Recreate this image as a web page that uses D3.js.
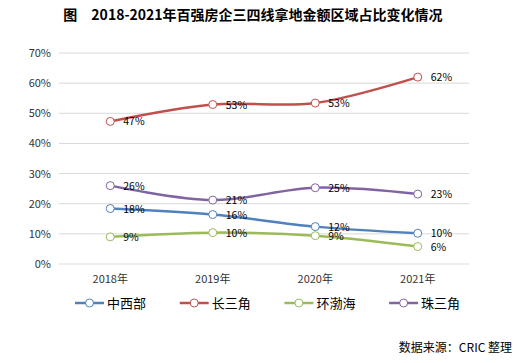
<!DOCTYPE html>
<html>
<head>
<meta charset="utf-8">
<script src="https://cdn.jsdelivr.net/npm/d3@7"></script>
<style>
  body { margin: 0; background: #fff; }
  text { font-family: "Noto Sans CJK SC", "DejaVu Sans", sans-serif; }
</style>
</head>
<body>
<svg id="chart" width="520" height="363"></svg>
<script>
// data
const years = ['2018年', '2019年', '2020年', '2021年'];
const regions = ['中西部', '长三角', '环渤海', '珠三角'];
const colors = ['#4F81BD', '#C0504D', '#9BBB59', '#8064A2'];
const zhongxibu = [18.4, 16.4, 12.4, 10.2];
const changsanjiao = [47.3, 52.9, 53.4, 62.0];
const huanbohai = [9.0, 10.4, 9.4, 5.8];
const zhusanjiao = [26.0, 21.2, 25.3, 23.2];
const yTicks = [0, 10, 20, 30, 40, 50, 60, 70];

const series = [zhongxibu, changsanjiao, huanbohai, zhusanjiao];

const svg = d3.select('#chart');

svg.append('text')
    .attr('x', 253)
    .attr('y', 20)
    .attr('text-anchor', 'middle')
    .attr('font-size', 14)
    .attr('font-weight', 'bold')
    .text('图　2018-2021年百强房企三四线拿地金额区域占比变化情况');

const x = d3.scaleBand()
    .domain(years)
    .range([59, 469]);

const y = d3.scaleLinear()
    .domain([0, 70])
    .range([264, 53]);

// gridlines
svg.append('g')
    .selectAll('line')
    .data(yTicks)
    .join('line')
    .attr('x1', 59)
    .attr('x2', 469)
    .attr('y1', d => y(d))
    .attr('y2', d => y(d))
    .attr('stroke', '#D9D9D9')
    .attr('stroke-width', 1);

// y axis labels
svg.append('g')
    .selectAll('text')
    .data(yTicks)
    .join('text')
    .attr('x', 51)
    .attr('y', d => y(d) + 4)
    .attr('text-anchor', 'end')
    .attr('font-size', 11)
    .attr('fill', '#333')
    .text(d => d + '%');

// x axis labels
svg.append('g')
    .selectAll('text')
    .data(years)
    .join('text')
    .attr('x', d => x(d) + x.bandwidth() / 2)
    .attr('y', 283)
    .attr('text-anchor', 'middle')
    .attr('font-size', 11)
    .attr('fill', '#333')
    .text(d => d);

const line = d3.line()
    .x((d, i) => x(years[i]) + x.bandwidth() / 2)
    .y(d => y(d))
    .curve(d3.curveCatmullRom.alpha(0.5));

series.forEach((vals, s) => {
    const g = svg.append('g');
    g.append('path')
        .attr('d', line(vals))
        .attr('fill', 'none')
        .attr('stroke', colors[s])
        .attr('stroke-width', 2.5);
    g.selectAll('circle')
        .data(vals)
        .join('circle')
        .attr('cx', (d, i) => x(years[i]) + x.bandwidth() / 2)
        .attr('cy', d => y(d))
        .attr('r', 4)
        .attr('fill', '#fff')
        .attr('stroke', colors[s])
        .attr('stroke-width', 1);
    g.selectAll('text')
        .data(vals)
        .join('text')
        .attr('x', (d, i) => x(years[i]) + x.bandwidth() / 2 + 13)
        .attr('y', d => y(d) + 4)
        .attr('font-size', 10.5)
        .attr('fill', '#000')
        .text(d => Math.round(d) + '%');
});

// legend
const legend = svg.append('g')
    .selectAll('g')
    .data(regions)
    .join('g')
    .attr('transform', (d, i) => `translate(${75 + i * 104.7},303)`);
legend.append('line')
    .attr('x1', 0).attr('x2', 29)
    .attr('stroke', (d, i) => colors[i])
    .attr('stroke-width', 2.5);
legend.append('circle')
    .attr('cx', 14.5)
    .attr('r', 4)
    .attr('fill', '#fff')
    .attr('stroke', (d, i) => colors[i]);
legend.append('text')
    .attr('x', 32)
    .attr('y', 5)
    .attr('font-size', 13)
    .text(d => d);

svg.append('text')
    .attr('x', 512)
    .attr('y', 352)
    .attr('text-anchor', 'end')
    .attr('font-size', 12)
    .text('数据来源：CRIC 整理');
</script>
</body>
</html>
